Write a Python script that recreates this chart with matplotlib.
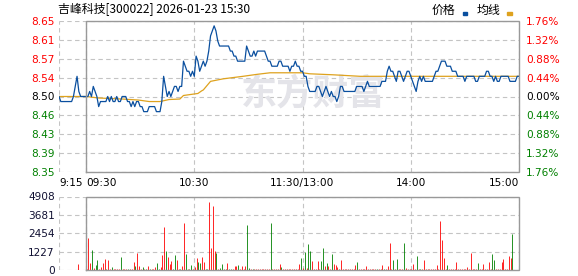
import matplotlib
matplotlib.use("Agg")
import matplotlib.pyplot as plt

plt.rcParams['font.family'] = ['DejaVu Sans', 'Noto Sans CJK SC']

# 昨收 / title
prev_close = 8.50
title = "吉峰科技[300022] 2026-01-23 15:30"

# pre-market 9:15-9:29 (minutes before 9:30)
pre_t = list(range(-15, 0))
pre_price = [8.50, 8.49, 8.49, 8.49, 8.49, 8.49, 8.49, 8.49, 8.50, 8.52,
             8.54, 8.51, 8.50, 8.50, 8.50]
pre_vol = [0, 0, 0, 0, 0, 0, 0, 0, 0, 0, 400, 0, 0, 0, 0]
pre_dir = [1] * 15

# 9:30-11:30 and 13:01-15:00, one value per minute
price = [
    8.50, 8.50, 8.51, 8.50, 8.52, 8.51, 8.50, 8.48, 8.49, 8.49,
    8.49, 8.49, 8.50, 8.49, 8.50, 8.49, 8.49, 8.50, 8.49, 8.49,
    8.50, 8.50, 8.50, 8.49, 8.49, 8.48, 8.49, 8.48, 8.49, 8.49,
    8.48, 8.48, 8.47, 8.47, 8.47, 8.48, 8.48, 8.48, 8.48, 8.47,
    8.47, 8.47, 8.49, 8.54, 8.52, 8.50, 8.51, 8.50, 8.51, 8.52,
    8.52, 8.51, 8.52, 8.52, 8.57, 8.56, 8.55, 8.55, 8.54, 8.55,
    8.54, 8.58, 8.57, 8.55, 8.56, 8.57, 8.56, 8.57, 8.59, 8.62,
    8.63, 8.64, 8.63, 8.61, 8.60, 8.60, 8.60, 8.60, 8.60, 8.60,
    8.59, 8.59, 8.58, 8.58, 8.57, 8.57, 8.57, 8.57, 8.57, 8.60,
    8.59, 8.58, 8.58, 8.59, 8.58, 8.59, 8.59, 8.59, 8.59, 8.59,
    8.58, 8.57, 8.57, 8.56, 8.56, 8.56, 8.56, 8.57, 8.57, 8.56,
    8.56, 8.56, 8.56, 8.55, 8.56, 8.56, 8.57, 8.56, 8.56, 8.55,
    8.55, 8.54, 8.54, 8.52, 8.51, 8.51, 8.51, 8.51, 8.52, 8.52,
    8.51, 8.50, 8.51, 8.52, 8.51, 8.50, 8.51, 8.50, 8.50, 8.49,
    8.50, 8.52, 8.52, 8.51, 8.51, 8.51, 8.51, 8.51, 8.51, 8.51,
    8.52, 8.52, 8.52, 8.52, 8.51, 8.52, 8.53, 8.52, 8.52, 8.52,
    8.52, 8.52, 8.52, 8.52, 8.53, 8.53, 8.53, 8.55, 8.56, 8.55,
    8.55, 8.54, 8.53, 8.55, 8.55, 8.54, 8.53, 8.54, 8.55, 8.55,
    8.54, 8.53, 8.52, 8.51, 8.53, 8.54, 8.53, 8.54, 8.53, 8.53,
    8.53, 8.53, 8.53, 8.54, 8.55, 8.55, 8.56, 8.57, 8.57, 8.57,
    8.56, 8.56, 8.56, 8.55, 8.55, 8.55, 8.54, 8.54, 8.54, 8.54,
    8.53, 8.54, 8.54, 8.54, 8.54, 8.54, 8.53, 8.53, 8.54, 8.54,
    8.54, 8.54, 8.55, 8.55, 8.54, 8.54, 8.53, 8.54, 8.53, 8.53,
    8.54, 8.54, 8.54, 8.54, 8.54, 8.53, 8.53, 8.53, 8.53, 8.54, 8.54,
]

vol = [
    80, 2160, 490, 1340, 150, 330, 650, 60, 200, 490,
    735, 60, 670, 60, 200, 60, 60, 60, 60, 870,
    60, 60, 60, 100, 60, 60, 535, 270, 1140, 270,
    100, 200, 60, 60, 270, 60, 60, 100, 200, 470,
    100, 200, 1000, 2880, 1270, 890, 400, 600, 60, 1000,
    670, 60, 60, 270, 3150, 1070, 100, 60, 330, 100,
    200, 800, 535, 500, 870, 560, 60, 60, 4570, 1470,
    4280, 1270, 1140, 100, 130, 400, 100, 60, 470, 60,
    60, 60, 290, 290, 330, 60, 290, 60, 290, 3010,
    130, 60, 60, 60, 60, 60, 60, 60, 60, 60,
    60, 60, 3150, 60, 60, 60, 60, 380, 200, 60,
    60, 60, 60, 60, 60, 60, 60, 60, 380, 780,
    130, 1230, 130, 1720, 1270, 600, 60, 60, 600, 60,
    600, 1470, 270, 470, 270, 100, 1070, 400, 330, 200,
    100, 670, 60, 60, 60, 60, 60, 100, 60, 330,
    535, 60, 60, 60, 60, 290, 60, 60, 60, 60,
    60, 60, 60, 60, 330, 100, 60, 270, 1800, 60,
    670, 60, 735, 60, 60, 60, 1800, 130, 60, 60,
    60, 400, 60, 940, 60, 100, 60, 670, 60, 60,
    60, 60, 60, 60, 330, 60, 3280, 2010, 800, 100,
    330, 60, 60, 60, 60, 535, 60, 60, 60, 60,
    60, 200, 60, 1140, 60, 100, 60, 470, 100, 100,
    400, 60, 60, 535, 60, 1070, 670, 60, 60, 60,
    535, 735, 60, 60, 940, 800, 2410, 0, 0, 0, 1410,
]

# 1 = up minute (red), -1 = down minute (green)
vol_dir = [
    1, 1, 1, -1, 1, -1, -1, 1, 1, 1,
    1, -1, 1, 1, -1, 1, 1, 1, 1, -1,
    1, 1, 1, -1, 1, 1, 1, -1, 1, 1,
    1, -1, 1, -1, 1, -1, 1, 1, 1, -1,
    -1, 1, 1, 1, -1, 1, 1, 1, -1, -1,
    1, 1, -1, 1, 1, -1, 1, -1, -1, 1,
    1, 1, -1, -1, 1, 1, -1, -1, 1, 1,
    1, 1, -1, 1, -1, -1, 1, -1, 1, -1,
    -1, 1, 1, 1, -1, 1, 1, 1, 1, -1,
    -1, 1, -1, 1, 1, 1, 1, 1, 1, 1,
    1, 1, -1, 1, 1, 1, 1, 1, -1, 1,
    1, 1, 1, 1, 1, 1, 1, 1, 1, -1,
    1, -1, 1, -1, -1, 1, 1, 1, 1, 1,
    -1, -1, 1, -1, 1, 1, -1, 1, 1, 1,
    -1, 1, 1, 1, 1, 1, 1, 1, 1, 1,
    -1, 1, 1, 1, 1, 1, 1, 1, 1, 1,
    1, -1, 1, 1, 1, -1, 1, 1, 1, 1,
    -1, 1, -1, 1, 1, 1, -1, 1, 1, 1,
    1, 1, 1, -1, 1, -1, 1, 1, 1, 1,
    1, 1, 1, 1, 1, 1, 1, 1, 1, 1,
    -1, 1, 1, 1, 1, 1, 1, 1, 1, 1,
    1, 1, 1, 1, 1, 1, 1, -1, 1, 1,
    1, 1, 1, 1, 1, -1, -1, 1, 1, 1,
    1, 1, 1, 1, 1, 1, -1, 1, 1, 1, 1,
]

# 均线 read at its turning points
avg_t = [-15, 0, 7, 20, 29, 35, 41, 46, 52, 54, 62, 64, 65, 69, 76, 87, 95,
         102, 120, 124, 137, 152, 240]
avg_v = [8.500, 8.500, 8.497, 8.495, 8.493, 8.490, 8.490, 8.494, 8.495, 8.502,
         8.506, 8.511, 8.513, 8.530, 8.535, 8.540, 8.544, 8.547, 8.547, 8.545,
         8.543, 8.540, 8.540]

time_ticks = [-15, 0, 60, 120, 180, 240]
time_labels = ["9:15", "09:30", "10:30", "11:30/13:00", "14:00", "15:00"]
vol_ticks = [0, 1227, 2454, 3681, 4908]
pct_steps = [4, 3, 2, 1, 0, -1, -2, -3, -4]
pct_unit = 0.0044

RED = "#ff0000"
GREEN = "#008000"
FRAME = "#999999"
GRID = "#c4c4c4"
BLUE = "#0a4f9f"
GOLD = "#dea21e"

W, H = 578, 276
fig = plt.figure(figsize=(W / 100, H / 100), dpi=100)
fig.patch.set_facecolor("white")


def frac(x0, y0, x1, y1):
    return [x0 / W, 1 - y1 / H, (x1 - x0) / W, (y1 - y0) / H]


ax = fig.add_axes(frac(59, 21, 519, 172))
axv = fig.add_axes(frac(59, 196.5, 519, 270))

t_all = pre_t + list(range(len(price)))
p_all = pre_price + price
v_all = pre_vol + vol
d_all = pre_dir + vol_dir

ymax = prev_close * (1 + 4 * pct_unit)
ymin = prev_close * (1 - 4 * pct_unit)
price_ticks = [prev_close * (1 + k * pct_unit) for k in pct_steps]


def dress(a, yticks):
    a.set_xlim(-15, 240)
    a.set_xticks(time_ticks)
    a.set_yticks(yticks)
    for s in a.spines.values():
        s.set_visible(False)
    a.tick_params(length=0)
    a.set_axisbelow(True)
    a.grid(True, color=GRID, lw=0.8, ls=(0, (4, 3)))
    lo, hi = min(yticks), max(yticks)
    a.plot([0, 240, 240, 0, 0], [lo, lo, hi, hi, lo], color=FRAME, lw=1.0,
           zorder=5, clip_on=False, solid_joinstyle="miter")


# price panel
ax.set_ylim(ymin, ymax)
dress(ax, price_ticks)

ax.text(126, prev_close + 0.004, "东方财富", family=["Noto Sans CJK SC"],
        fontsize=26, fontweight="bold", color="#e4e4e9", ha="center",
        va="center", zorder=1)

ax.plot(avg_t, avg_v, color=GOLD, lw=0.9, zorder=3)
ax.plot(t_all, p_all, color=BLUE, lw=0.9, zorder=4)

ax.set_yticklabels(["%.2f" % v for v in price_ticks], fontsize=7.6)
ax.tick_params(axis="y", pad=3)
for lab, k in zip(ax.get_yticklabels(), pct_steps):
    lab.set_color(RED if k > 0 else (GREEN if k < 0 else "#000000"))

axr = ax.twinx()
axr.set_ylim(ymin, ymax)
for s in axr.spines.values():
    s.set_visible(False)
axr.set_yticks(price_ticks)
axr.set_yticklabels(["%.2f%%" % (abs(k) * pct_unit * 100) for k in pct_steps],
                    fontsize=7.6)
axr.tick_params(length=0, pad=5)
for lab, k in zip(axr.get_yticklabels(), pct_steps):
    lab.set_color(RED if k > 0 else (GREEN if k < 0 else "#000000"))

ax.set_xticklabels(time_labels, fontsize=7.6)
ax.tick_params(axis="x", pad=4)
xl = ax.get_xticklabels()
xl[0].set_horizontalalignment("left")
xl[1].set_horizontalalignment("left")
xl[-1].set_horizontalalignment("right")

# volume panel
axv.set_ylim(0, vol_ticks[-1])
dress(axv, vol_ticks)
colors = [RED if d > 0 else GREEN for d in d_all]
axv.vlines([t + 0.3 for t in t_all], 0, v_all, colors=colors, lw=0.6,
           zorder=3)
axv.set_yticklabels([str(v) for v in vol_ticks], fontsize=7.6, color="#111133")
axv.tick_params(axis="y", pad=3)
axv.set_xticklabels([])

# title and legend
fig.text(58 / W, 1 - 9.5 / H, title, family=["Noto Sans CJK SC"], fontsize=8.6,
         va="center", ha="left", color="#000000")
fig.text(432 / W, 1 - 10 / H, "价格", family=["Noto Sans CJK SC"], fontsize=8.6,
         va="center", ha="left")
fig.text(477 / W, 1 - 10 / H, "均线", family=["Noto Sans CJK SC"], fontsize=8.6,
         va="center", ha="left")
fig.patches.append(plt.Rectangle((463 / W, 1 - 15 / H), 4.5 / W, 3 / H,
                                 transform=fig.transFigure, color=BLUE))
fig.patches.append(plt.Rectangle((507 / W, 1 - 15 / H), 4.5 / W, 3 / H,
                                 transform=fig.transFigure, color=GOLD))

fig.savefig("out.png", dpi=100)
